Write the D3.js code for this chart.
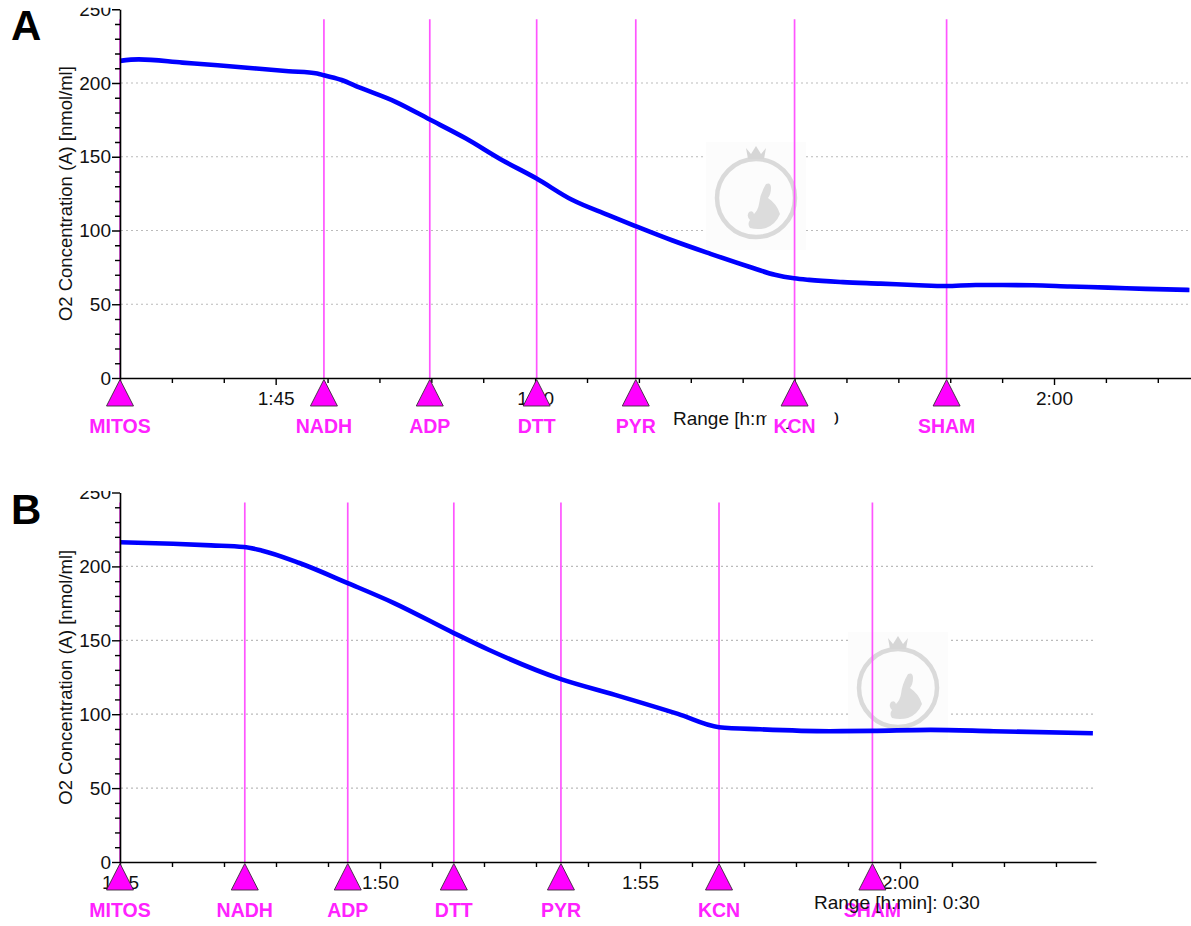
<!DOCTYPE html>
<html>
<head>
<meta charset="utf-8">
<script src="https://d3js.org/d3.v7.min.js"></script>
<style>
  body { margin: 0; background: #fff; }
  svg { display: block; font-family: "Liberation Sans", Arial, sans-serif; }
</style>
</head>
<body>
<svg id="chart" width="1191" height="926"></svg>
<script>

// event markers (same order in both runs)
const eventNames = ["MITOS", "NADH", "ADP", "DTT", "PYR", "KCN", "SHAM"]

// times are minutes since 0:00 (1:45 = 105)
const eventTimesA = [102.0, 105.93, 107.97, 110.03, 111.94, 115.0, 117.93]
const eventTimesB = [105.0, 107.4, 109.38, 111.42, 113.48, 116.52, 119.47]

// O2 trace, panel A
const timeA = [102.0, 102.36, 103.2, 103.88, 104.56, 105.25, 105.8, 105.93, 106.27, 106.61, 107.3,
  107.96, 108.66, 109.35, 110.02, 110.71, 111.4, 111.92, 112.65, 113.38, 114.11, 114.62, 114.99,
  115.28, 115.93, 116.66, 117.39, 117.92, 118.49, 119.59, 120.31, 121.04, 121.77, 122.61]
const o2A = [215, 216, 213.8, 212, 210, 208, 206.5, 205.2, 202, 197, 187.4,
  175.4, 162.5, 148, 135.4, 120.8, 110.6, 103.2, 93.2, 84.2, 75.6, 70, 67.6,
  66.5, 65, 64, 62.9, 62.4, 63.1, 62.9, 62, 61.3, 60.4, 59.7]

// O2 trace, panel B
const timeB = [105, 106.02, 106.75, 107.38, 107.72, 108.45, 109.38, 110.27, 111.42, 112.09,
  113.48, 114.52, 115.73, 116.52, 117.31, 118.65, 119.47, 120.59, 121.8, 123.71]
const o2B = [216.3, 215.3, 214.2, 213.1, 210.8, 202.3, 188.7, 175.2, 154.9, 143.6,
  123.7, 113.1, 100.2, 91.2, 89.8, 88.5, 88.7, 89.4, 88.5, 87.1]

const yMinorTicks = d3.range(0, 251, 10)
const gridValues = [50, 100, 150, 200]
const yLabel = "O2 Concentration (A) [nmol/ml]"
const rangeLabel = "Range [h:min]: 0:30"

const svg = d3.select('#chart')

const fmt = m => Math.floor(m / 60) + ':' + String(Math.round(m % 60)).padStart(2, '0')

// faint logo watermark
function drawLogo(g, cx, cy) {
  const w = g.append('g')
  w.append('rect').attr('x', cx - 50).attr('y', cy - 56).attr('width', 100).attr('height', 108)
    .attr('fill', '#fcfcfc')
  w.append('circle').attr('cx', cx).attr('cy', cy).attr('r', 39)
    .attr('fill', 'none').attr('stroke', '#dadada').attr('stroke-width', 4.5)
  w.append('path')
    .attr('d', `M${cx-8},${cy-39} L${cx-10},${cy-50} L${cx-5},${cy-44} L${cx},${cy-52} L${cx+5},${cy-44} L${cx+10},${cy-50} L${cx+8},${cy-39} Z`)
    .attr('fill', '#d6d6d6')
  w.append('path')
    .attr('d', `M${cx+10},${cy-14} q5,-2 5,4 q0,6 -3,10 q9,6 12,16 q-4,10 -14,14 q-8,2 -16,0 q-3,-4 0,-8 q-4,-4 -1,-8 q4,-2 5,2 q4,-4 5,-10 q1,-10 7,-20 Z`)
    .attr('fill', '#dcdcdc')
}

function panel(o) {
  const x = d3.scaleLinear().domain(o.xDomain).range([120, o.right])
  const y = d3.scaleLinear().domain([0, 250]).range([o.bottom, o.top])
  const y0 = y(0)

  svg.append('clipPath').attr('id', 'clip' + o.letter)
    .append('rect').attr('x', 0).attr('y', y(250) - 1.5).attr('width', 1191).attr('height', 926)
  const g = svg.append('g').attr('clip-path', `url(#clip${o.letter})`)

  // dotted grid
  g.append('g').selectAll('line').data(gridValues).join('line')
    .attr('x1', 121).attr('x2', o.right)
    .attr('y1', d => y(d)).attr('y2', d => y(d))
    .attr('stroke', '#bbbbbb').attr('stroke-width', 1.2).attr('stroke-dasharray', '2,3')

  drawLogo(g, o.logo[0], o.logo[1])

  // event lines
  g.append('g').selectAll('line').data(o.events).join('line')
    .attr('x1', d => x(d)).attr('x2', d => x(d))
    .attr('y1', y(250) + 10).attr('y2', y0)
    .attr('stroke', '#ff55ff').attr('stroke-width', 1.7)

  // trace
  const line = d3.line().x(d => x(d[0])).y(d => y(d[1])).curve(d3.curveMonotoneX)
  g.append('path').datum(d3.zip(o.times, o.values))
    .attr('d', line).attr('fill', 'none').attr('stroke', '#0000ff').attr('stroke-width', 4.6)

  // y axis
  const ya = g.append('g').attr('transform', 'translate(120,0)')
    .call(d3.axisLeft(y).tickValues(yMinorTicks).tickSizeOuter(0)
      .tickFormat(d => d % 50 === 0 ? d : ''))
  ya.select('.domain').attr('stroke', '#000').attr('stroke-width', 1.6)
  ya.selectAll('.tick line').attr('x2', d => d % 50 === 0 ? -8 : -5).attr('stroke-width', 1.4)
  ya.selectAll('.tick text').attr('x', -9).attr('font-size', 19).attr('fill', '#111')
    .attr('font-family', '"Liberation Sans", Arial, sans-serif')

  // x axis
  const xt = d3.range(Math.ceil(o.xDomain[0]), o.xDomain[1], 1)
  const xa = g.append('g').attr('transform', `translate(0,${y0})`)
    .call(d3.axisBottom(x).tickValues(xt).tickSizeOuter(0)
      .tickFormat(d => d % 5 === 0 ? fmt(d) : ''))
  xa.select('.domain').attr('stroke', '#000').attr('stroke-width', 1.6)
  xa.selectAll('.tick line').attr('y2', d => d % 5 === 0 ? 7 : 5).attr('stroke-width', 1.4)
  xa.selectAll('.tick text').attr('y', 14).attr('font-size', 19).attr('fill', '#111')
    .attr('font-family', '"Liberation Sans", Arial, sans-serif')

  // y label
  svg.append('text')
    .attr('transform', `translate(72,${(y(0) + y(250)) / 2}) rotate(-90)`)
    .attr('text-anchor', 'middle').attr('font-size', 18.5).attr('fill', '#111')
    .text(yLabel)

  const range = () => svg.append('text')
    .attr('x', o.rangeX).attr('y', y0 + 47)
    .attr('font-size', 19).attr('fill', '#111').text(rangeLabel)

  if (!o.rangeOnTop) range()

  // white label background that hides part of the axis text
  if (o.mask) {
    svg.append('rect').attr('x', x(o.events[o.mask]) - 28).attr('y', y0 + 10)
      .attr('width', 68).attr('height', 38).attr('fill', '#fff')
  }

  // triangles
  svg.append('g').selectAll('path').data(o.events).join('path')
    .attr('d', d => `M${x(d)},${y0 + 1.5} L${x(d) - 13.5},${y0 + 28} L${x(d) + 13.5},${y0 + 28} Z`)
    .attr('fill', '#ff00ff').attr('stroke', '#3a2a3a').attr('stroke-width', 0.9)

  svg.append('g').selectAll('text').data(o.events).join('text')
    .attr('x', d => x(d)).attr('y', y0 + 55)
    .attr('text-anchor', 'middle').attr('font-size', 19.5).attr('font-weight', 'bold')
    .attr('fill', '#ff22ff')
    .text((d, i) => eventNames[i])

  if (o.rangeOnTop) range()

  svg.append('text').attr('x', 11).attr('y', o.top + 31)
    .attr('font-size', 42).attr('font-weight', 'bold').attr('fill', '#000')
    .text(o.letter)
}

panel({
  letter: 'A', top: 9.25, bottom: 378, right: 1191,
  xDomain: [102, 122.64], times: timeA, values: o2A, events: eventTimesA,
  rangeX: 673, rangeOnTop: false, mask: 5, logo: [756, 198]
})

panel({
  letter: 'B', top: 492.5, bottom: 862, right: 1096,
  xDomain: [105, 123.77], times: timeB, values: o2B, events: eventTimesB,
  rangeX: 814, rangeOnTop: true, mask: 0, logo: [898, 688]
})

</script>
</body>
</html>
